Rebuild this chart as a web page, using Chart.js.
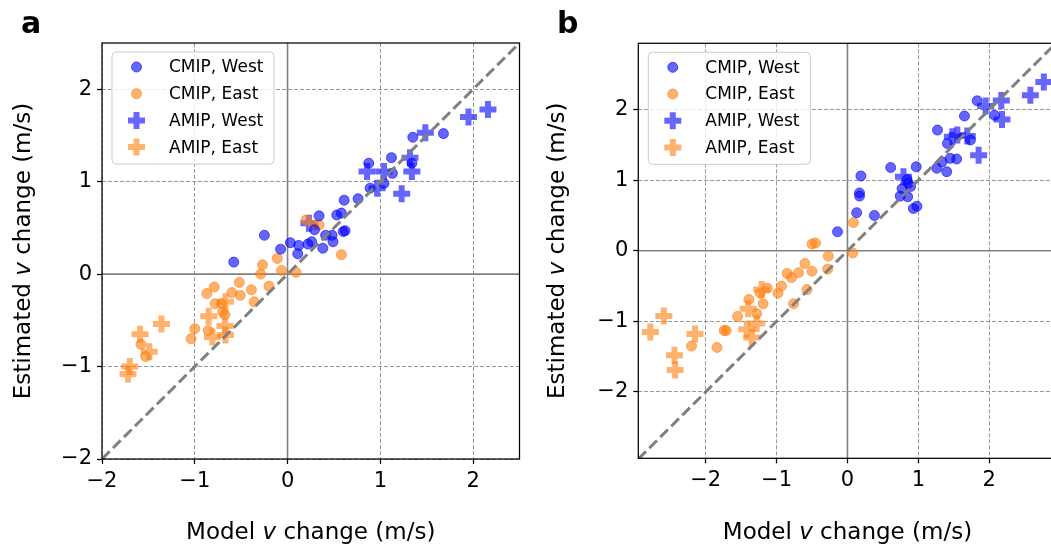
<!DOCTYPE html>
<html>
<head>
<meta charset="utf-8">
<script src="https://cdn.jsdelivr.net/npm/chart.js@4/dist/chart.umd.min.js"></script>
<style>
  html, body { margin: 0; padding: 0; background: #fff; overflow: hidden; width: 1051px; height: 544px; }
  .panel { position: absolute; top: 0; width: 530px; height: 544px; }
  #pa { left: 0; }
  #pb { left: 530px; }
</style>
</head>
<body>
<div class="panel" id="pa"><canvas id="chartA" width="530" height="544"></canvas></div>
<div class="panel" id="pb"><canvas id="chartB" width="530" height="544"></canvas></div>
<script>
// ---- data ----
const seriesLabels = ['CMIP, West', 'CMIP, East', 'AMIP, West', 'AMIP, East'];

// panel a
const aLimX = [-2, 2.5];
const aLimY = [-2, 2.5];
const aTicks = [-2, -1, 0, 1, 2];
const aCmipWest = [[-0.58, 0.13], [-0.25, 0.42], [-0.075, 0.27], [0.03, 0.34], [0.12, 0.31], [0.11, 0.22],
  [0.22, 0.325], [0.26, 0.35], [0.29, 0.48], [0.34, 0.63], [0.38, 0.28], [0.41, 0.42], [0.48, 0.42],
  [0.49, 0.35], [0.53, 0.64], [0.58, 0.66], [0.62, 0.47], [0.60, 0.46], [0.61, 0.80], [0.76, 0.815],
  [0.875, 1.20], [0.89, 0.93], [1.04, 0.98], [1.13, 1.09], [1.12, 1.26], [1.34, 1.20], [1.35, 1.48], [1.68, 1.52]];
const aCmipEast = [[0.20, 0.585], [0.28, 0.53], [0.34, 0.53], [0.58, 0.21], [-0.11, 0.17], [-0.065, 0.04],
  [0.09, 0.02], [-0.27, 0.10], [-0.29, 0.0], [-0.20, -0.13], [-0.39, -0.17], [-0.52, -0.09], [-0.79, -0.14],
  [-0.87, -0.21], [-0.60, -0.20], [-0.51, -0.23], [-0.36, -0.30], [-0.78, -0.32], [-0.71, -0.32],
  [-0.70, -0.41], [-0.675, -0.44], [-1.0, -0.59], [-0.855, -0.61], [-1.04, -0.70], [-1.58, -0.76], [-1.53, -0.89]];
const aAmipWest = [[0.23, 0.55], [0.857, 1.11], [0.965, 0.93], [1.04, 1.11], [1.32, 1.26], [1.34, 1.11],
  [1.23, 0.87], [1.485, 1.53], [1.95, 1.70], [2.16, 1.78]];
const aAmipEast = [[-0.67, -0.30], [-0.85, -0.455], [-0.675, -0.56], [-0.81, -0.68], [-0.67, -0.66],
  [-1.36, -0.54], [-1.59, -0.65], [-1.49, -0.84], [-1.70, -1.00], [-1.72, -1.08]];

// panel b
const bLimX = [-2.95, 2.95];
const bLimY = [-2.94, 2.94];
const bTicks = [-2, -1, 0, 1, 2];
const bCmipWest = [[-0.14, 0.27], [0.13, 0.54], [0.38, 0.50], [0.17, 0.775], [0.17, 0.82], [0.19, 1.06],
  [0.61, 1.18], [0.84, 1.01], [0.86, 0.955], [0.77, 0.88], [0.89, 0.91], [0.745, 0.775], [0.85, 0.765],
  [0.97, 1.19], [0.98, 0.63], [0.93, 0.60], [1.27, 1.71], [1.26, 1.17], [1.40, 1.12], [1.335, 1.26],
  [1.45, 1.31], [1.54, 1.30], [1.41, 1.52], [1.735, 1.57], [1.65, 1.91], [1.83, 2.125], [2.075, 1.92]];
const bCmipEast = [[0.085, 0.40], [0.076, -0.03], [-0.50, 0.095], [-0.45, 0.11], [-0.27, -0.075],
  [-0.60, -0.18], [-0.85, -0.32], [-0.69, -0.31], [-0.50, -0.29], [-0.79, -0.38], [-0.28, -0.26],
  [-0.93, -0.50], [-0.98, -0.60], [-0.57, -0.55], [-0.76, -0.75], [-1.13, -0.53], [-1.23, -0.60],
  [-1.19, -0.75], [-1.39, -0.69], [-1.28, -0.89], [-1.55, -0.93], [-1.74, -1.13], [-1.71, -1.13],
  [-1.84, -1.37], [-2.20, -1.35]];
const bAmipWest = [[0.79, 1.05], [1.48, 1.615], [1.55, 1.64], [1.69, 1.625], [1.85, 1.355], [1.95, 2.05],
  [2.17, 2.13], [2.18, 1.86], [2.58, 2.205], [2.77, 2.39]];
const bAmipEast = [[-1.21, -0.55], [-1.40, -0.82], [-1.28, -1.03], [-1.42, -1.11], [-1.35, -1.23],
  [-2.15, -1.18], [-2.59, -0.925], [-2.78, -1.15], [-2.44, -1.48], [-2.43, -1.69]];

// ---- styles ----
const FONT = "'DejaVu Sans', sans-serif";
const BLUE = 'rgba(0,0,255,0.6)';
const ORANGE = 'rgba(255,127,14,0.6)';
const GREY = '#808080';
const markerStyles = [
  { pointStyle: 'circle', pointRadius: 5, pointBorderWidth: 1, color: BLUE },
  { pointStyle: 'circle', pointRadius: 5, pointBorderWidth: 1, color: ORANGE },
  { pointStyle: 'cross', pointRadius: 8.5, pointBorderWidth: 6, color: BLUE },
  { pointStyle: 'cross', pointRadius: 8.5, pointBorderWidth: 6, color: ORANGE }
];

const toXY = pts => pts.map(p => ({ x: p[0], y: p[1] }));

// draws text made of [string, italic] parts, centred on (x, y)
function drawRich(ctx, parts, size, x, y, rotate) {
    const fontOf = it => (it ? 'italic ' : '') + size + 'px ' + FONT;
    let total = 0;
    parts.forEach(([t, it]) => { ctx.font = fontOf(it); total += ctx.measureText(t).width; });
    ctx.save();
    ctx.translate(x, y);
    if (rotate) ctx.rotate(-Math.PI / 2);
    ctx.fillStyle = '#000';
    ctx.textBaseline = 'alphabetic';
    ctx.textAlign = 'left';
    let cx = -total / 2;
    parts.forEach(([t, it]) => {
        ctx.font = fontOf(it);
        ctx.fillText(t, cx, 0);
        cx += ctx.measureText(t).width;
    });
    ctx.restore();
}

const decorations = {
    id: 'decorations',
    afterDatasetsDraw(chart) {
        const { ctx, chartArea: a } = chart;
        ctx.save();
        ctx.strokeStyle = '#000';
        ctx.lineWidth = 1.25;
        ctx.strokeRect(a.left, a.top, a.right - a.left, a.bottom - a.top);
        ctx.restore();
    },
    afterDraw(chart, args, opts) {
        const { ctx, chartArea: a } = chart;
        // legend box
        const bx = a.left + 10, by = a.top + 9, bw = 162, bh = 112, r = 4;
        ctx.save();
        ctx.beginPath();
        ctx.moveTo(bx + r, by);
        ctx.arcTo(bx + bw, by, bx + bw, by + bh, r);
        ctx.arcTo(bx + bw, by + bh, bx, by + bh, r);
        ctx.arcTo(bx, by + bh, bx, by, r);
        ctx.arcTo(bx, by, bx + bw, by, r);
        ctx.closePath();
        ctx.fillStyle = 'rgba(255,255,255,0.8)';
        ctx.fill();
        ctx.strokeStyle = '#cccccc';
        ctx.lineWidth = 1;
        ctx.stroke();
        seriesLabels.forEach((label, i) => {
            const st = markerStyles[i];
            const y = by + 15 + i * 26.7;
            ctx.fillStyle = st.color;
            ctx.strokeStyle = st.color;
            ctx.lineWidth = st.pointBorderWidth;
            Chart.helpers.drawPoint(ctx, { pointStyle: st.pointStyle, radius: st.pointRadius,
                borderWidth: st.pointBorderWidth, rotation: 0 }, bx + 24.5, y);
            ctx.fillStyle = '#000';
            ctx.font = '17px ' + FONT;
            ctx.textBaseline = 'middle';
            ctx.textAlign = 'left';
            ctx.fillText(label, bx + 57, y + 1);
        });
        // axis titles
        const cxm = (a.left + a.right) / 2, cym = (a.top + a.bottom) / 2;
        drawRich(ctx, [['Model ', false], ['v', true], [' change (m/s)', false]], 23, cxm, 539, false);
        drawRich(ctx, [['Estimated ', false], ['v', true], [' change (m/s)', false]], 23, opts.yTitleX, cym, true);
        // panel letter
        ctx.fillStyle = '#000';
        ctx.font = 'bold 30px ' + FONT;
        ctx.textBaseline = 'alphabetic';
        ctx.textAlign = 'left';
        ctx.fillText(opts.letter, opts.letterX, 33);
        ctx.restore();
    }
};

function axis(lim, ticks, fit) {
    return {
        type: 'linear',
        min: lim[0],
        max: lim[1],
        afterBuildTicks: s => { s.ticks = ticks.map(v => ({ value: v })); },
        afterFit: s => {
            fit(s);
            // keep the plot box where it is: no extra room for label overhang
            s.paddingLeft = s.paddingRight = s.paddingTop = s.paddingBottom = 0;
        },
        ticks: {
            color: '#000',
            font: { family: FONT, size: 21 },
            padding: 5,
            callback: v => (v < 0 ? '\u2212' + Math.abs(v) : String(v))
        },
        grid: {
            color: c => (c.tick && c.tick.value === 0 ? 'rgba(0,0,0,0)' : 'rgba(128,128,128,0.8)'),
            lineWidth: 1,
            tickColor: '#000',
            tickLength: 5,
            tickWidth: 1.25
        },
        border: { display: false, dash: [4, 2] }
    };
}

function makePanel(id, p) {
    const datasets = [p.cmipWest, p.cmipEast, p.amipWest, p.amipEast].map((pts, i) => {
        const st = markerStyles[i];
        return {
            type: 'scatter',
            label: seriesLabels[i],
            data: toXY(pts),
            pointStyle: st.pointStyle,
            pointRadius: st.pointRadius,
            pointBorderWidth: st.pointBorderWidth,
            backgroundColor: st.color,
            borderColor: st.color,
            order: i + 1
        };
    });
    // 1:1 line and zero lines, spanning the axis limits
    datasets.push({
        type: 'line', data: [{ x: p.limX[0], y: p.limX[0] }, { x: p.limX[1], y: p.limX[1] }],
        borderColor: GREY, borderWidth: 3, borderDash: [10.8, 4.7], pointRadius: 0, fill: false, order: 0
    });
    datasets.push({
        type: 'line', data: [{ x: p.limX[0], y: 0 }, { x: p.limX[1], y: 0 }],
        borderColor: GREY, borderWidth: 1.6, pointRadius: 0, fill: false, order: 10
    });
    datasets.push({
        type: 'line', data: [{ x: 0, y: p.limY[0] }, { x: 0, y: p.limY[1] }],
        borderColor: GREY, borderWidth: 1.6, pointRadius: 0, fill: false, order: 10
    });

    return new Chart(document.getElementById(id), {
        type: 'scatter',
        data: { datasets },
        options: {
            responsive: false,
            animation: false,
            layout: { autoPadding: false, padding: { top: p.padTop, right: p.padRight, left: 0, bottom: 0 } },
            plugins: {
                legend: { display: false },
                tooltip: { enabled: false },
                decorations: { letter: p.letter, letterX: p.letterX, yTitleX: p.yTitleX }
            },
            scales: {
                x: axis(p.limX, p.ticks, s => { s.height = p.xAxisHeight; }),
                y: axis(p.limY, p.ticks, s => { s.width = p.yAxisWidth; })
            }
        },
        plugins: [decorations]
    });
}

makePanel('chartA', {
    cmipWest: aCmipWest, cmipEast: aCmipEast, amipWest: aAmipWest, amipEast: aAmipEast,
    limX: aLimX, limY: aLimY, ticks: aTicks,
    padTop: 43, padRight: 10.5, yAxisWidth: 102, xAxisHeight: 85,
    letter: 'a', letterX: 21, yTitleX: 30
});
makePanel('chartB', {
    cmipWest: bCmipWest, cmipEast: bCmipEast, amipWest: bAmipWest, amipEast: bAmipEast,
    limX: bLimX, limY: bLimY, ticks: bTicks,
    padTop: 43.3, padRight: 3.4, yAxisWidth: 108.3, xAxisHeight: 85.7,
    letter: 'b', letterX: 27, yTitleX: 34
});
</script>
</body>
</html>
